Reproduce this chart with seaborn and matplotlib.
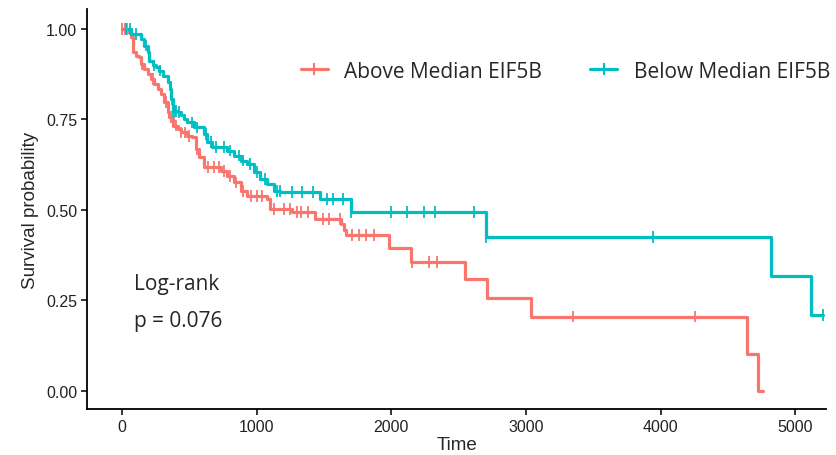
import numpy as np
import pandas as pd
import seaborn as sns
import matplotlib.pyplot as plt
from matplotlib.lines import Line2D

# step curves (time, survival)
above_time = [0, 42, 67, 79, 104, 128, 140, 165, 190, 214, 239, 264, 288, 313, 338, 350, 375,
              412, 436, 486, 523, 547, 572, 609, 732, 782, 831, 880, 930, 1078, 1102, 1265,
              1435, 1630, 1645, 1660, 1982, 2150, 2544, 2712, 3040, 4645, 4726, 4760]
above_surv = [1.0, 0.991, 0.977, 0.935, 0.926, 0.922, 0.903, 0.890, 0.876, 0.862, 0.848, 0.834,
              0.820, 0.798, 0.770, 0.756, 0.733, 0.724, 0.714, 0.705, 0.701, 0.668, 0.645, 0.618,
              0.608, 0.594, 0.576, 0.553, 0.539, 0.530, 0.503, 0.494, 0.475, 0.460, 0.445, 0.430,
              0.395, 0.356, 0.309, 0.257, 0.205, 0.102, 0.0, 0.0]

below_time = [0, 67, 140, 165, 190, 202, 227, 251, 276, 301, 338, 357, 362, 375, 412, 436, 461,
              486, 535, 609, 634, 671, 782, 831, 880, 930, 979, 1028, 1078, 1127, 1176, 1470,
              1700, 2700, 4822, 5118, 5207]
below_surv = [1.0, 0.986, 0.972, 0.954, 0.935, 0.912, 0.899, 0.894, 0.885, 0.871, 0.853, 0.834,
              0.807, 0.774, 0.770, 0.761, 0.751, 0.742, 0.728, 0.710, 0.687, 0.673, 0.664, 0.650,
              0.636, 0.627, 0.604, 0.586, 0.572, 0.553, 0.549, 0.530, 0.495, 0.425, 0.318, 0.210,
              0.210]

# censor times
above_cens = [0, 20, 40, 150, 230, 330, 360, 400, 440, 470, 500, 560, 640, 680, 720, 760, 800,
              850, 900, 960, 1000, 1040, 1130, 1200, 1250, 1300, 1330, 1380, 1490, 1540, 1620,
              1709, 1760, 1812, 1871, 2152, 2278, 2337, 3351, 4253]
below_cens = [30, 60, 100, 180, 240, 280, 370, 380, 390, 400, 420, 520, 560, 620, 660, 700, 760,
              800, 870, 900, 950, 1000, 1060, 1150, 1170, 1260, 1340, 1420, 1520, 1570, 1640,
              1700, 1997, 2115, 2241, 2323, 2611, 2700, 3942, 5207]

groups = ["Above Median EIF5B", "Below Median EIF5B"]
colors = {"Above Median EIF5B": "#F8766D", "Below Median EIF5B": "#00BFC4"}


def step_at(times, surv, t):
    idx = np.searchsorted(times, t, side="right") - 1
    return np.asarray(surv)[idx]


curves = pd.concat([
    pd.DataFrame({"time": above_time, "surv": above_surv, "group": groups[0]}),
    pd.DataFrame({"time": below_time, "surv": below_surv, "group": groups[1]}),
])
cens = pd.concat([
    pd.DataFrame({"time": above_cens, "surv": step_at(above_time, above_surv, above_cens),
                  "group": groups[0]}),
    pd.DataFrame({"time": below_cens, "surv": step_at(below_time, below_surv, below_cens),
                  "group": groups[1]}),
])

sns.set_theme(style="ticks")
plt.rcParams['font.family'] = ['Liberation Sans', 'DejaVu Sans']

fig = plt.figure(figsize=(8.37, 4.56), dpi=100)
ax = fig.add_axes([0.104, 0.101, 0.883, 0.877])

sns.lineplot(data=curves, x="time", y="surv", hue="group", palette=colors,
             drawstyle="steps-post", estimator=None, linewidth=2.3, legend=False, ax=ax)
sns.scatterplot(data=cens, x="time", y="surv", hue="group", palette=colors, marker="|",
                s=70, linewidth=1.3, legend=False, ax=ax, zorder=3)

ax.set_xlim(-260, 5230)
ax.set_ylim(-0.05, 1.055)
ax.set_xticks([0, 1000, 2000, 3000, 4000, 5000])
ax.set_yticks([0, 0.25, 0.5, 0.75, 1.0])
ax.set_yticklabels(["0.00", "0.25", "0.50", "0.75", "1.00"])
ax.tick_params(labelsize=11.5, colors="black", length=4, width=1.1, labelcolor="#222222", pad=3)
ax.set_xlabel("Time", fontsize=13.5, labelpad=2)
ax.set_ylabel("Survival probability", fontsize=13.5, labelpad=5)
for side in ["left", "bottom"]:
    ax.spines[side].set_linewidth(1.3)
    ax.spines[side].set_color("black")
sns.despine(ax=ax)

handles = [Line2D([], [], color=colors[g], linewidth=2.3, marker="|", markersize=9,
                  markeredgewidth=1.5) for g in groups]
ax.legend(handles, groups, loc="center right", bbox_to_anchor=(1.031, 0.845), ncol=2,
          frameon=False, prop={"family": "Open Sans", "size": 15}, handlelength=1.3,
          columnspacing=2.3, handletextpad=0.8)

ax.text(90, 0.296, "Log-rank", fontsize=15, family="Open Sans", va="center")
ax.text(90, 0.193, "p = 0.076", fontsize=15, family="Open Sans", va="center")

fig.savefig("out.png", dpi=100)
